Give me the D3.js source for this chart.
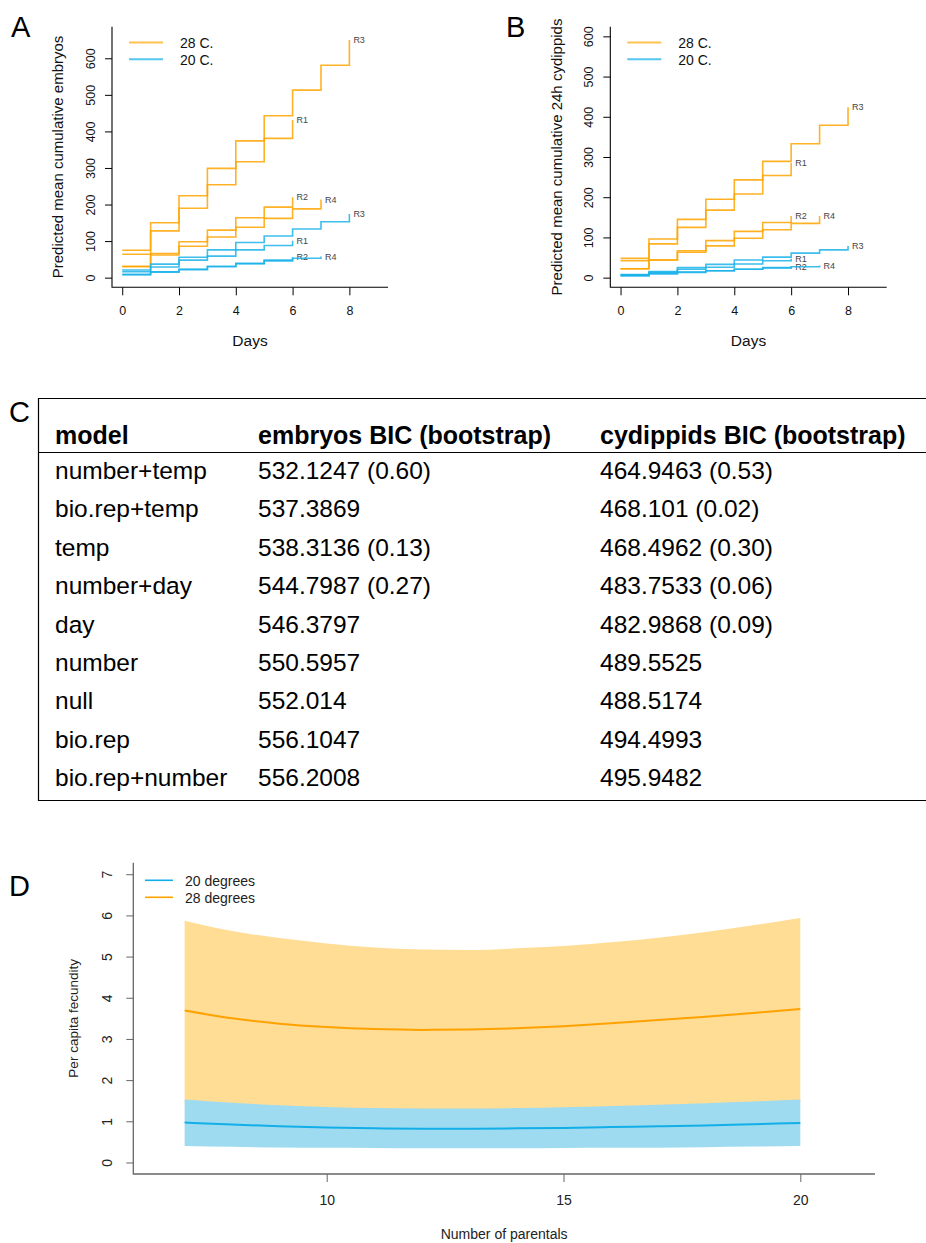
<!DOCTYPE html>
<html>
<head>
<meta charset="utf-8">
<script src="https://cdnjs.cloudflare.com/ajax/libs/d3/7.8.5/d3.min.js"></script>
<style>
  body { margin: 0; background: #fff; }
  svg { display: block; font-family: "Liberation Sans", Arial, Helvetica, sans-serif; }
</style>
</head>
<body>
<svg width="926" height="1243"></svg>
<script>
// ---- data ----
const reps = ["R1", "R2", "R3", "R4"];
const dayTicks = [0, 2, 4, 6, 8];
const countTicks = [0, 100, 200, 300, 400, 500, 600];

// cumulative values per replicate, starting at day 0
const embryos28 = [
  [64, 128, 190, 254, 317, 381, 431],
  [31, 66, 98, 130, 164, 193, 220],
  [75, 150, 224, 299, 374, 443, 513, 581, 650],
  [30, 62, 86, 111, 138, 162, 188, 214]
];
const embryos20 = [
  [16, 29, 48, 59, 76, 88, 101],
  [8, 16, 23, 31, 39, 48, 56],
  [21, 37, 56, 76, 96, 114, 133, 153, 174],
  [9, 15, 22, 30, 38, 46, 53, 58]
];
const cyd28 = [
  [42, 84, 125, 168, 208, 254, 285],
  [22, 44, 67, 92, 115, 137, 153],
  [48, 96, 145, 195, 243, 289, 333, 379, 424],
  [22, 44, 63, 79, 98, 119, 135, 153]
];
const cyd20 = [
  [7, 13, 21, 26, 34, 42, 47],
  [5, 10, 14, 17, 21, 25, 28],
  [8, 15, 25, 33, 44, 51, 61, 69, 79],
  [5, 10, 13, 17, 21, 24, 27, 30]
];

const tableHeader = ["model", "embryos BIC (bootstrap)", "cydippids BIC (bootstrap)"];
const models = ["number+temp", "bio.rep+temp", "temp", "number+day", "day", "number", "null", "bio.rep", "bio.rep+number"];
const embryosBIC = ["532.1247 (0.60)", "537.3869", "538.3136 (0.13)", "544.7987 (0.27)", "546.3797", "550.5957", "552.014", "556.1047", "556.2008"];
const cydippidsBIC = ["464.9463 (0.53)", "468.101 (0.02)", "468.4962 (0.30)", "483.7533 (0.06)", "482.9868 (0.09)", "489.5525", "488.5174", "494.4993", "495.9482"];

const parentals = [7, 8, 9, 10, 11, 12, 13, 14, 15, 16, 17, 18, 19, 20];
const fec28Mean  = [3.69, 3.50, 3.37, 3.29, 3.24, 3.22, 3.23, 3.26, 3.31, 3.38, 3.46, 3.54, 3.63, 3.73];
const fec28Upper = [5.87, 5.62, 5.45, 5.32, 5.22, 5.17, 5.16, 5.20, 5.26, 5.35, 5.46, 5.60, 5.76, 5.94];
const fec28Lower = [1.45, 1.38, 1.32, 1.28, 1.26, 1.25, 1.25, 1.26, 1.28, 1.30, 1.33, 1.37, 1.41, 1.45];
const fec20Mean  = [0.97, 0.92, 0.88, 0.85, 0.83, 0.82, 0.82, 0.83, 0.84, 0.86, 0.88, 0.90, 0.93, 0.96];
const fec20Upper = [1.53, 1.45, 1.39, 1.35, 1.32, 1.31, 1.31, 1.32, 1.34, 1.37, 1.40, 1.44, 1.48, 1.53];
const fec20Lower = [0.40, 0.38, 0.365, 0.355, 0.35, 0.345, 0.345, 0.345, 0.35, 0.355, 0.36, 0.37, 0.385, 0.40];
const fecTicks = [0, 1, 2, 3, 4, 5, 6, 7];
const parentalTicks = [10, 15, 20];

const orange = "#FFA500";
const blue = "#1BB3EA";

const svg = d3.select("svg");

// step-plot panels (A and B)
function stepPanel(o) {
  const x = d3.scaleLinear().domain([-0.36, 9.36]).range([o.left, o.right]);
  const y = d3.scaleLinear().domain(o.yDomain).range([o.bottom, o.top]);
  const g = svg.append("g");

  // L shaped box
  g.append("path")
    .attr("d", `M${o.left},${o.top}V${o.bottom}H${o.right}`)
    .attr("fill", "none").attr("stroke", "#000").attr("stroke-width", 1.1);

  const xAxis = g.append("g")
    .attr("transform", `translate(0,${o.bottom})`)
    .call(d3.axisBottom(x).tickValues(dayTicks).tickSize(8).tickPadding(11).tickSizeOuter(0));
  xAxis.select(".domain").remove();
  xAxis.selectAll("text").style("font-size", "12.5px").attr("fill", "#111");

  const yAxis = g.append("g")
    .attr("transform", `translate(${o.left},0)`)
    .call(d3.axisLeft(y).tickValues(countTicks).tickSize(7).tickSizeOuter(0));
  yAxis.select(".domain").remove();
  yAxis.selectAll("text")
    .attr("x", 0).attr("y", -17).attr("dy", null)
    .attr("text-anchor", "middle")
    .attr("transform", "rotate(-90)")
    .style("font-size", "12.5px").attr("fill", "#111");

  const line = d3.line()
    .x((d, i) => x(i))
    .y(d => y(d))
    .curve(d3.curveStepAfter);

  [[o.data28, orange], [o.data20, blue]].forEach(([series, col]) => {
    series.forEach((vals, r) => {
      g.append("path")
        .datum(vals)
        .attr("d", line)
        .attr("fill", "none")
        .attr("stroke", col)
        .attr("stroke-opacity", 0.85)
        .attr("stroke-width", 1.6);
      g.append("text")
        .attr("x", x(vals.length - 1) + 4)
        .attr("y", y(vals[vals.length - 1]))
        .attr("dy", "0.35em")
        .style("font-size", "9px")
        .attr("fill", "#444")
        .text(reps[r]);
    });
  });

  // legend
  const leg = [["28 C.", "#FFC24F"], ["20 C.", "#55C6EE"]];
  leg.forEach(([lab, col], i) => {
    g.append("line")
      .attr("x1", o.left + 17).attr("x2", o.left + 51)
      .attr("y1", 42.5 + i * 16.7).attr("y2", 42.5 + i * 16.7)
      .attr("stroke", col).attr("stroke-width", 2);
    g.append("text")
      .attr("x", o.left + 68).attr("y", 47.8 + i * 16.7)
      .style("font-size", "14px").attr("fill", "#111")
      .text(lab);
  });

  g.append("text")
    .attr("transform", `translate(${o.titleX},${(o.top + o.bottom) / 2}) rotate(-90)`)
    .attr("text-anchor", "middle")
    .style("font-size", "15px").attr("fill", "#111")
    .text(o.yTitle);

  g.append("text")
    .attr("x", (o.left + o.right) / 2).attr("y", 346)
    .attr("text-anchor", "middle")
    .style("font-size", "15.5px").attr("fill", "#111")
    .text("Days");

  svg.append("text")
    .attr("x", o.letterX).attr("y", 36.5)
    .style("font-size", "29px")
    .text(o.letter);
}

stepPanel({
  left: 112, right: 388, top: 26.7, bottom: 287.3,
  yDomain: [-26.4, 686.4],
  data28: embryos28, data20: embryos20,
  yTitle: "Predicted mean cumulative embryos", titleX: 63,
  letter: "A", letterX: 11
});

stepPanel({
  left: 610.3, right: 886.7, top: 26.7, bottom: 287.3,
  yDomain: [-24, 624],
  data28: cyd28, data20: cyd20,
  yTitle: "Predicted mean cumulative 24h cydippids", titleX: 561.5,
  letter: "B", letterX: 506
});

// ---- table C ----
const tab = svg.append("g");
const colX = [55, 258, 600];
const rowY = d3.scalePoint().domain(models).range([479, 786]);

tab.append("path")
  .attr("d", "M926,398.5H38.5V800.5H926")
  .attr("fill", "none").attr("stroke", "#000").attr("stroke-width", 1.2);
tab.append("line")
  .attr("x1", 38).attr("x2", 926).attr("y1", 452.5).attr("y2", 452.5)
  .attr("stroke", "#000").attr("stroke-width", 1.2);

tab.selectAll(".hdr")
  .data(tableHeader)
  .enter().append("text")
    .attr("x", (d, i) => colX[i]).attr("y", 444)
    .style("font-size", "25px").style("font-weight", "bold")
    .text(d => d);

[models, embryosBIC, cydippidsBIC].forEach((col, c) => {
  tab.selectAll(".c" + c)
    .data(col)
    .enter().append("text")
      .attr("x", colX[c])
      .attr("y", (d, i) => rowY(models[i]))
      .style("font-size", "24.5px")
      .text(d => d);
});

svg.append("text").attr("x", 9).attr("y", 422).style("font-size", "29px").text("C");

// ---- panel D ----
const dLeft = 133.3, dRight = 875, dTop = 862.7, dBottom = 1174;
const xD = d3.scaleLinear().domain([5.916, 21.577]).range([dLeft, dRight]);
const yD = d3.scaleLinear().domain([-0.28, 7.28]).range([dBottom, dTop]);
const gD = svg.append("g");

const band = (lo, hi) => d3.area()
  .x((d, i) => xD(parentals[i]))
  .y0((d, i) => yD(lo[i]))
  .y1((d, i) => yD(hi[i]))
  .curve(d3.curveMonotoneX)(parentals);
const meanLine = vals => d3.line()
  .x((d, i) => xD(parentals[i]))
  .y((d, i) => yD(vals[i]))
  .curve(d3.curveMonotoneX)(parentals);

gD.append("path").attr("d", band(fec28Lower, fec28Upper)).attr("fill", "#FFDD95");
gD.append("path").attr("d", band(fec20Lower, fec20Upper)).attr("fill", "#9EDBF0");
gD.append("path").attr("d", meanLine(fec28Mean)).attr("fill", "none").attr("stroke", "#FFA200").attr("stroke-width", 2);
gD.append("path").attr("d", meanLine(fec20Mean)).attr("fill", "none").attr("stroke", "#12AEE8").attr("stroke-width", 2);

gD.append("path")
  .attr("d", `M${dLeft},${dTop}V${dBottom}H${dRight}`)
  .attr("fill", "none").attr("stroke", "#666").attr("stroke-width", 1.3);

const xAxD = gD.append("g")
  .attr("transform", `translate(0,${dBottom})`)
  .call(d3.axisBottom(xD).tickValues(parentalTicks).tickSize(8).tickPadding(13).tickSizeOuter(0));
xAxD.select(".domain").remove();
xAxD.selectAll("line").attr("stroke", "#666");
xAxD.selectAll("text").style("font-size", "14px").attr("fill", "#222");

const yAxD = gD.append("g")
  .attr("transform", `translate(${dLeft},0)`)
  .call(d3.axisLeft(yD).tickValues(fecTicks).tickSize(7).tickSizeOuter(0));
yAxD.select(".domain").remove();
yAxD.selectAll("line").attr("stroke", "#666");
yAxD.selectAll("text")
  .attr("x", 0).attr("y", -21.5).attr("dy", null)
  .attr("text-anchor", "middle")
  .attr("transform", "rotate(-90)")
  .style("font-size", "14px").attr("fill", "#222");

[["20 degrees", "#12AEE8"], ["28 degrees", "#FFA200"]].forEach(([lab, col], i) => {
  gD.append("line")
    .attr("x1", 145).attr("x2", 173)
    .attr("y1", 880.3 + i * 17).attr("y2", 880.3 + i * 17)
    .attr("stroke", col).attr("stroke-width", 1.6);
  gD.append("text")
    .attr("x", 185).attr("y", 885.5 + i * 17)
    .style("font-size", "14px").attr("fill", "#222")
    .text(lab);
});

gD.append("text")
  .attr("transform", `translate(77.5,${(dTop + dBottom) / 2}) rotate(-90)`)
  .attr("text-anchor", "middle")
  .style("font-size", "13.5px").attr("fill", "#222")
  .text("Per capita fecundity");

gD.append("text")
  .attr("x", (dLeft + dRight) / 2).attr("y", 1239)
  .attr("text-anchor", "middle")
  .style("font-size", "14px").attr("fill", "#222")
  .text("Number of parentals");

svg.append("text").attr("x", 9).attr("y", 896).style("font-size", "29px").text("D");
</script>
</body>
</html>
